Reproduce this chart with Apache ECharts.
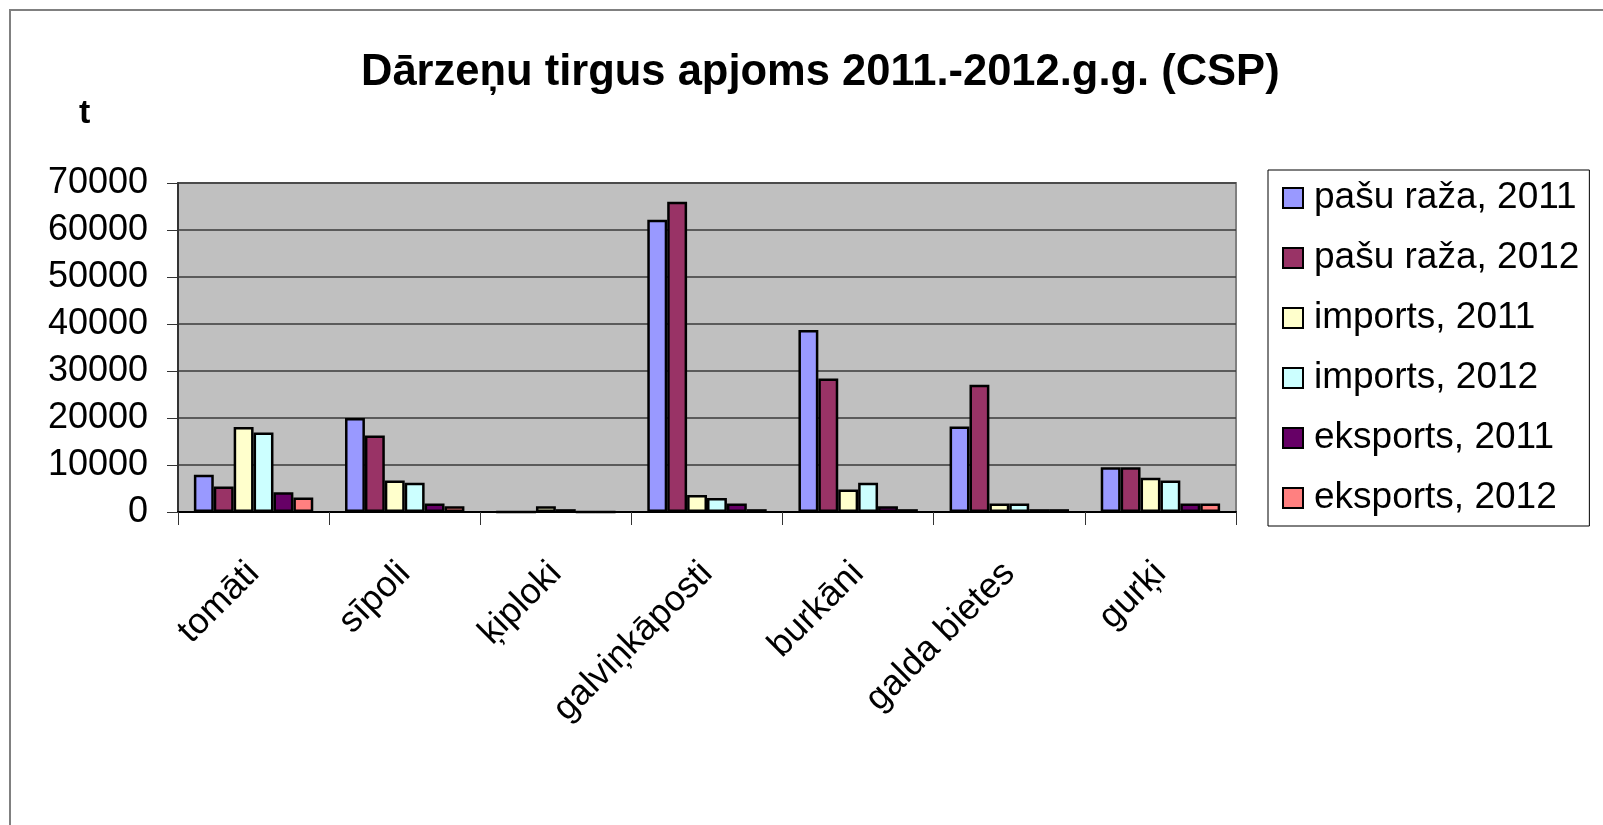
<!DOCTYPE html>
<html>
<head>
<meta charset="utf-8">
<script src="https://cdn.jsdelivr.net/npm/echarts@6/dist/echarts.min.js"></script>
<style>
  body { margin: 0; background: #fff; }
  #chart { width: 1603px; height: 825px; }
</style>
</head>
<body>
<div id="chart"></div>
<script>
// kategorijas
var categories = ['tomāti', 'sīpoli', 'ķiploki', 'galviņkāposti', 'burkāni', 'galda bietes', 'gurķi'];

// dati, t
var pasuRaza2011 = [7900, 20000, 0, 62200, 38700, 18200, 9500];
var pasuRaza2012 = [5400, 16300, 0, 66000, 28400, 27100, 9500];
var imports2011 = [18100, 6700, 1200, 3600, 4800, 1800, 7300];
var imports2012 = [16900, 6200, 600, 3000, 6200, 1800, 6700];
var eksports2011 = [4200, 1800, 0, 1800, 1200, 600, 1800];
var eksports2012 = [3100, 1200, 0, 600, 600, 600, 1800];

var seriesNames = ['pašu raža, 2011', 'pašu raža, 2012', 'imports, 2011', 'imports, 2012', 'eksports, 2011', 'eksports, 2012'];
var seriesData = [pasuRaza2011, pasuRaza2012, imports2011, imports2012, eksports2011, eksports2012];
var colors = ['#9999FF', '#993366', '#FFFFCC', '#CCFFFF', '#660066', '#FF8080'];

var font = '"Liberation Sans", Arial, sans-serif';

var chart = echarts.init(document.getElementById('chart'));

var series = [];
for (var i = 0; i < seriesNames.length; i++) {
    series.push({
        name: seriesNames[i],
        type: 'bar',
        barGap: '0%',
        barCategoryGap: '21%',
        data: seriesData[i],
        itemStyle: {
            color: colors[i],
            borderColor: '#000',
            borderWidth: 2.5
        }
    });
}

var option = {
    animation: false,
    backgroundColor: '#fff',
    graphic: [{
        type: 'rect',
        shape: { x: 10, y: 10, width: 1700, height: 1000 },
        style: { fill: 'none', stroke: '#808080', lineWidth: 2 },
        silent: true
    }],
    title: [{
        text: 'Dārzeņu tirgus apjoms 2011.-2012.g.g. (CSP)',
        left: 356,
        top: 46,
        textStyle: { fontFamily: font, fontSize: 43.5, fontWeight: 'bold', color: '#000' }
    }, {
        text: 't',
        left: 74,
        top: 92,
        textStyle: { fontFamily: font, fontSize: 34, fontWeight: 'bold', color: '#000' }
    }],
    legend: {
        orient: 'vertical',
        left: 1268,
        top: 170,
        padding: [8, 10, 8, 14],
        itemGap: 20,
        itemWidth: 20,
        itemHeight: 20,
        backgroundColor: '#fff',
        borderColor: '#000',
        borderWidth: 1,
        borderRadius: 0,
        icon: 'rect',
        textStyle: { fontFamily: font, fontSize: 37, color: '#000', lineHeight: 40, padding: [0, 0, 0, 6] }
    },
    grid: {
        left: 178,
        right: 367,
        top: 183,
        bottom: 313,
        show: true,
        backgroundColor: '#C0C0C0',
        borderColor: '#808080',
        borderWidth: 2
    },
    xAxis: {
        type: 'category',
        data: categories,
        axisLine: { lineStyle: { color: '#000', width: 2 } },
        axisTick: { show: true, length: 13, lineStyle: { color: '#333', width: 1 } },
        axisLabel: {
            rotate: 45,
            interval: 0,
            margin: 56,
            fontFamily: font,
            fontSize: 36,
            color: '#000'
        }
    },
    yAxis: {
        type: 'value',
        min: 0,
        max: 70000,
        interval: 10000,
        axisLine: { show: true, lineStyle: { color: '#333', width: 2 } },
        axisTick: { show: true, length: 11, lineStyle: { color: '#333', width: 1 } },
        axisLabel: {
            margin: 30,
            fontFamily: font,
            fontSize: 36,
            color: '#000',
            formatter: function (v) { return String(v); }
        },
        splitLine: { lineStyle: { color: '#3a3a3a', width: 1.5 } }
    },
    series: series
};

chart.setOption(option);
</script>
</body>
</html>
